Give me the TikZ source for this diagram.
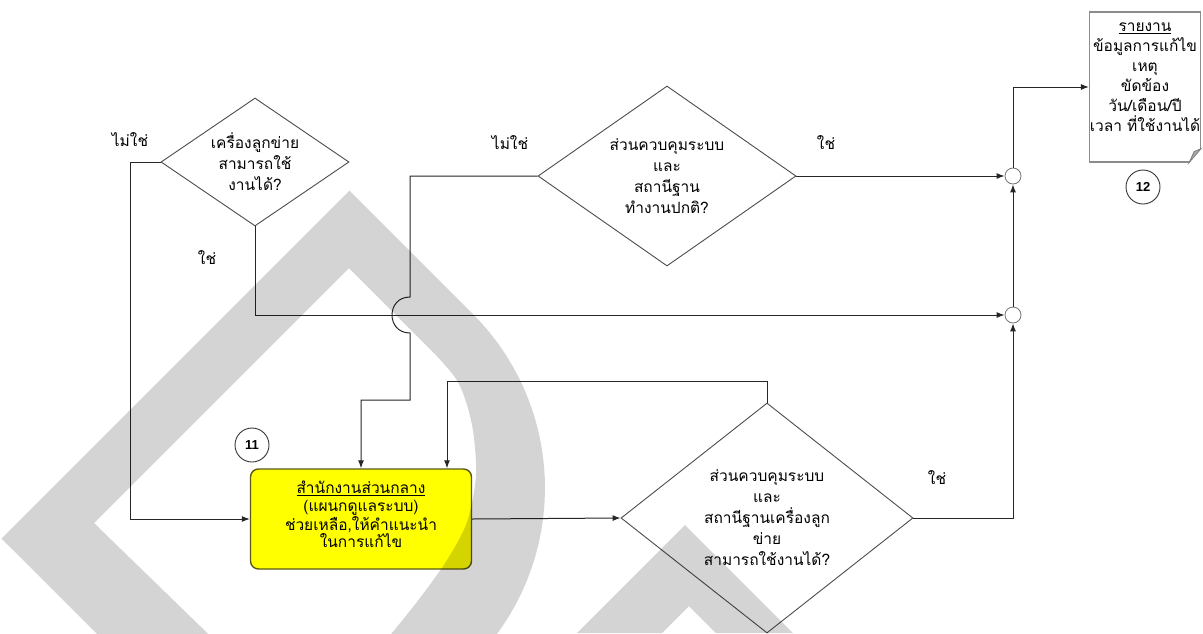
\documentclass[tikz,border=0pt]{standalone}
\usepackage{fontspec}
\usetikzlibrary{arrows.meta,positioning,shapes,calc}
\newfontfamily\thaifont[Script=Thai]{Loma}
\newfontfamily\numfont{Liberation Sans}
\definecolor{boxline}{RGB}{90,90,20}
\definecolor{boxfill}{RGB}{255,255,0}

\begin{document}
\begin{tikzpicture}[x=1pt,y=-1pt,>={Latex[length=8pt,width=6pt]},
ask node/.style={diamond,draw=black!70,line width=0.9pt,inner sep=0pt,align=center,font=\thaifont\fontsize{15.5}{21}\selectfont},
work node/.style={rectangle,rounded corners=8pt,draw=boxline,fill=boxfill,line width=1.4pt,inner sep=0pt,align=center,font=\thaifont\fontsize{15.5}{17.5}\selectfont},
doc node/.style={rectangle,draw=black!45,line width=1.2pt,fill=white,inner sep=0pt,align=center,font=\thaifont\fontsize{15.5}{20}\selectfont},
join node/.style={circle,draw=black!55,line width=0.8pt,minimum size=16pt,inner sep=0pt},
tag node/.style={circle,draw=black!80,line width=0.9pt,minimum size=34pt,inner sep=0pt,font=\numfont\bfseries\fontsize{13}{13}\selectfont},
say node/.style={font=\thaifont\fontsize{15.5}{15}\selectfont},
link/.style={draw=black!85,line width=1pt,->}]
\useasboundingbox (0,0) rectangle (1203,633);
\begin{scope}
\node[ask node,aspect=1.47,minimum width=188pt,minimum height=128pt] (q1) at (255,162) {เครื่องลูกข่าย\\สามารถใช้\\งานได้?};
\node[ask node,aspect=1.43,minimum width=258pt,minimum height=180pt] (q2) at (667,176) {ส่วนควบคุมระบบ\\และ\\สถานีฐาน\\ทำงานปกติ?};
\node[ask node,aspect=1.27,minimum width=292pt,minimum height=230pt] (q3) at (767,518) {ส่วนควบคุมระบบ\\และ\\สถานีฐานเครื่องลูก\\ข่าย\\สามารถใช้งานได้?};
\node[work node,minimum width=221pt,minimum height=100pt] (w11) at (361,519) {\underline{สำนักงานส่วนกลาง}\\(แผนกดูแลระบบ)\\ช่วยเหลือ,ให้คำแนะนำ\\ในการแก้ไข\\[-8pt]\mbox{}};
\node[doc node,minimum width=111pt,minimum height=150pt] (r12) at (1145,87) {\underline{รายงาน}\\ข้อมูลการแก้ไข\\เหตุ\\ขัดข้อง\\วัน/เดือน/ปี\\เวลา ที่ใช้งานได้\\\mbox{}};
\node[tag node] (t11) at (252,445) {11};
\node[tag node] (t12) at (1143,187) {12};
\node[join node] (jU) at (1013,176) {};
\node[join node] (jL) at (1013,315) {};
\end{scope}
% folded corner
\fill[white] ($(r12.south east)+(1,1)$) -- ($(r12.south east)+(-12,1)$) -- ($(r12.south east)+(1,-15)$) -- cycle;
\filldraw[fill=black!35,draw=black!50,line width=0.8pt] ($(r12.south east)+(-12,0)$) -- ($(r12.south east)+(0,-14)$) -- ($(r12.south east)+(-7,-11)$) -- cycle;
\begin{scope}[every node/.style={say node}]
\node (n1) at (130,140) {ไม่ใช่};
\node (y1) at (207,258) {ใช่};
\node (n2) at (510,143) {ไม่ใช่};
\node (y2) at (826,143) {ใช่};
\node (y3) at (937,478) {ใช่};
\end{scope}
\draw[link] (q1.west) -- ++(-30,0) |- (w11.west);
\draw[link] (q1.south) |- (jL.west);
\draw[link] (q2.west) -- (410,176) -- (410,297) .. controls (386,297) and (386,333) .. (410,333) -- (410,400) -| (w11.north);
\draw[link] (q2.east) -- (jU.west);
\draw[link] (jL.north) -- (jU.south);
\draw[link] (jU.north) |- (r12.west);
\draw[link] (w11.east) -- (q3.west);
\draw[link] (q3.north) -- ++(0,-21) -| ($(w11.north)+(86,0)$);
\draw[link] (q3.east) -| (jL.south);
% watermark
\begin{scope}
\clip (0,0) rectangle (1203,633);
\fill[black,opacity=0.17,even odd rule] (1.5,538.5) -- (349.5,190.5) -- (473,314) -- plot[domain=-45:135,samples=60] ({299+246*cos(\x)},{488+246*sin(\x)}) -- cycle
 (94,523) -- (349,268) -- (430,349) -- plot[smooth] coordinates {(430,349) (458,382) (472,425) (476,475) (467,522) (447,560) (420,598) (392,633) (370,660)} -- (235,660) -- cycle;
\fill[black,opacity=0.17] (577,633) -- (685,525) -- (793,633) -- (716,633) -- (689,606) -- (662,633) -- cycle;
\end{scope}
\end{tikzpicture}
\end{document}
